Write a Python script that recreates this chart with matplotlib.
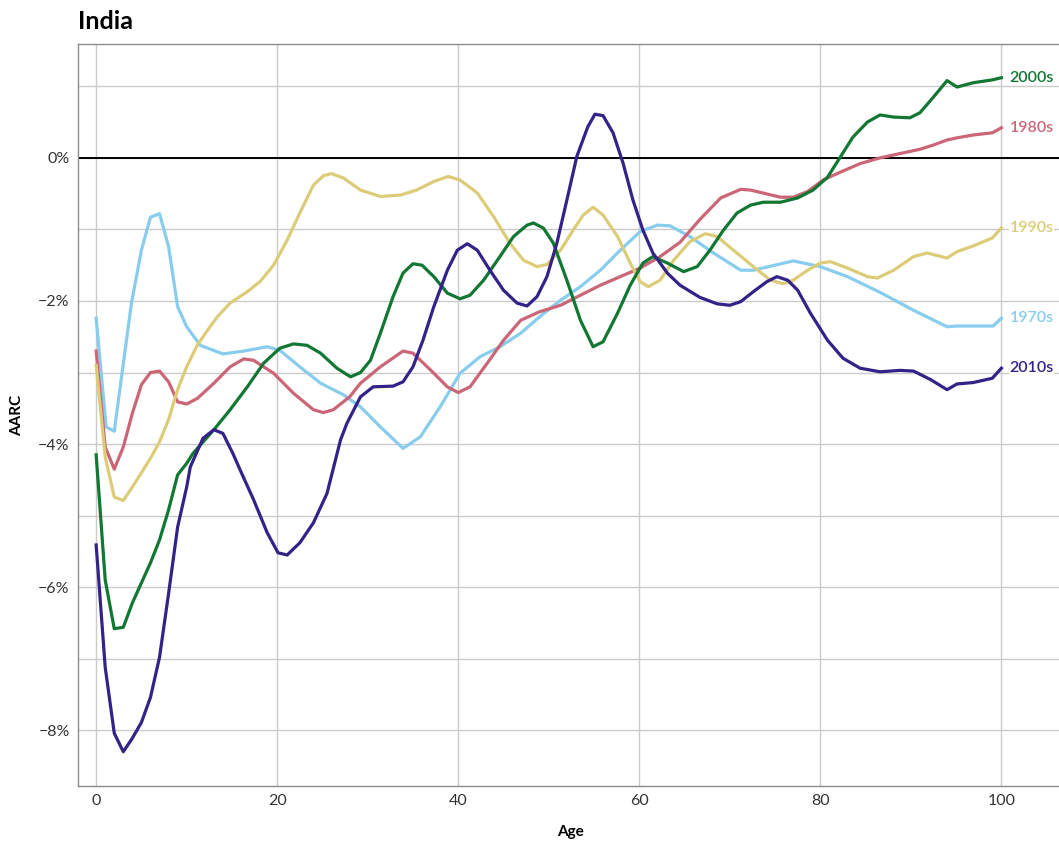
import matplotlib
matplotlib.use("Agg")
import matplotlib.pyplot as plt
from matplotlib.ticker import FuncFormatter, MultipleLocator

plt.rcParams['font.family'] = ['Lato', 'DejaVu Sans']

# ages and AARC (%), one pair of lists per decade
age_1970s = [0, 1.1, 2, 3.9, 5, 6, 7, 8, 9, 10, 11.5, 14, 16.3, 18.9, 20.3, 22.5, 24.8, 27.3,
             29.2, 31.4, 33.9, 35.8, 38, 40.2, 42.4, 44.6, 46.9, 49, 51.3, 53.5, 55.7, 57.9,
             60.1, 62, 63.4, 65.6, 68.2, 71.2, 72.6, 77, 80, 83, 86.6, 90.3, 94, 95.1, 99.1, 100]
val_1970s = [-2.24, -3.76, -3.82, -2.03, -1.29, -0.83, -0.78, -1.24, -2.08, -2.36, -2.62, -2.74,
             -2.7, -2.64, -2.69, -2.92, -3.15, -3.31, -3.48, -3.76, -4.06, -3.9, -3.48, -3.01,
             -2.78, -2.64, -2.45, -2.22, -1.99, -1.8, -1.57, -1.29, -1.03, -0.94, -0.95, -1.1,
             -1.33, -1.57, -1.57, -1.44, -1.52, -1.66, -1.88, -2.13, -2.36, -2.35, -2.35, -2.24]

age_1980s = [0, 1, 2, 3, 4, 5, 6, 7, 8, 9, 10, 11.2, 13, 14.8, 16.3, 17.4, 19.6, 21.8, 24, 25.1,
             26.2, 28, 29.2, 31.4, 33.9, 35, 36.9, 38.8, 40, 41.3, 43.2, 45, 46.9, 49, 51.3, 53.5,
             55.7, 57.9, 60.1, 62.3, 64.5, 66.7, 69, 71.2, 72.3, 75.6, 77, 78.6, 80.3, 82.2, 84.4,
             86.6, 88.8, 91, 92.5, 94, 95.1, 96.9, 99, 100]
val_1980s = [-2.7, -4.04, -4.35, -4.04, -3.57, -3.17, -3.0, -2.98, -3.13, -3.41, -3.44, -3.36,
             -3.15, -2.92, -2.81, -2.83, -3.01, -3.29, -3.52, -3.56, -3.52, -3.34, -3.15, -2.92,
             -2.7, -2.73, -2.96, -3.2, -3.28, -3.2, -2.87, -2.55, -2.27, -2.15, -2.06, -1.92,
             -1.78, -1.66, -1.54, -1.38, -1.18, -0.86, -0.56, -0.44, -0.45, -0.55, -0.55, -0.47,
             -0.31, -0.2, -0.08, 0.0, 0.06, 0.12, 0.18, 0.25, 0.28, 0.32, 0.35, 0.42]

age_1990s = [0, 1, 2, 3, 4, 5, 6, 7, 8, 9, 10, 11.2, 12.3, 13.4, 14.8, 16.7, 18.1, 19.6, 21.1,
             22.5, 24, 25.1, 26, 27.3, 29.2, 31.4, 33.6, 35.4, 37.3, 38.9, 40.2, 42.1, 43.9, 45.7,
             47.2, 48.7, 49.8, 51.3, 52.7, 53.8, 54.9, 56, 57.6, 59, 60.1, 61, 62.3, 63.8, 65.6,
             67.3, 68.6, 70.4, 72.6, 74.5, 75.9, 77, 78.6, 80, 81.1, 83, 85.2, 86.3, 88.1, 90.3,
             91.8, 94, 95.1, 96.9, 99, 100]
val_1990s = [-2.9, -4.18, -4.74, -4.79, -4.6, -4.4, -4.2, -3.97, -3.66, -3.24, -2.92, -2.61,
             -2.41, -2.22, -2.03, -1.87, -1.73, -1.5, -1.15, -0.77, -0.38, -0.25, -0.22, -0.28,
             -0.45, -0.54, -0.52, -0.45, -0.33, -0.26, -0.31, -0.49, -0.82, -1.19, -1.43, -1.52,
             -1.49, -1.29, -1.01, -0.8, -0.69, -0.8, -1.1, -1.47, -1.73, -1.8, -1.71, -1.43,
             -1.17, -1.06, -1.1, -1.29, -1.52, -1.71, -1.76, -1.71, -1.57, -1.47, -1.45, -1.54,
             -1.66, -1.68, -1.57, -1.38, -1.33, -1.4, -1.31, -1.23, -1.12, -0.98]

age_2000s = [0, 1, 2, 3, 4, 5, 6, 7, 8, 9, 10, 10.7, 13, 14.8, 16.7, 18.5, 20.3, 21.8, 23.3,
             24.8, 26.6, 28.1, 29.2, 30.3, 31.4, 32.8, 33.9, 35, 36, 37.3, 38.8, 40.2, 41.3, 42.8,
             44.6, 46.1, 47.6, 48.3, 49.4, 50.5, 52, 53.5, 54.9, 56, 57.6, 59, 60.4, 61.5, 63.1,
             64.9, 66.4, 67.8, 69.3, 70.8, 72.3, 73.7, 75.6, 77.5, 79.2, 80.8, 82.2, 83.6, 85.2,
             86.6, 88.1, 89.9, 91, 92.5, 94, 95.1, 96.9, 99, 100]
val_2000s = [-4.15, -5.9, -6.58, -6.56, -6.22, -5.94, -5.66, -5.34, -4.92, -4.43, -4.27, -4.13,
             -3.8, -3.52, -3.2, -2.87, -2.66, -2.6, -2.62, -2.73, -2.94, -3.06, -3.0, -2.83,
             -2.45, -1.94, -1.61, -1.48, -1.5, -1.66, -1.89, -1.97, -1.92, -1.71, -1.38, -1.1,
             -0.94, -0.91, -0.98, -1.19, -1.71, -2.27, -2.64, -2.57, -2.17, -1.78, -1.47, -1.38,
             -1.47, -1.59, -1.52, -1.29, -1.01, -0.77, -0.66, -0.62, -0.62, -0.56, -0.45, -0.27,
             0.01, 0.29, 0.5, 0.6, 0.57, 0.56, 0.63, 0.85, 1.08, 0.99, 1.05, 1.09, 1.12]

age_2010s = [0, 1, 2, 3, 4, 5, 6, 7, 8, 9, 10, 10.4, 11.8, 13, 14, 15.1, 15.9, 17.4, 18.9, 20.1,
             21.1, 22.5, 24, 25.5, 27, 27.7, 29.2, 30.6, 32.8, 33.9, 35, 36.1, 37.3, 38.8, 39.9,
             41, 42.1, 43.5, 45, 46.5, 47.6, 48.7, 49.8, 50.9, 52, 53.1, 54.3, 55.1, 56, 57.1,
             58.2, 59.3, 60.4, 61.5, 63.1, 64.5, 66.7, 68.6, 70, 71.2, 72.6, 74.1, 75.2, 76.4,
             77.5, 78.9, 80.8, 82.5, 84.4, 86.6, 88.8, 90.3, 92.2, 94, 95.1, 96.9, 99, 100]
val_2010s = [-5.41, -7.12, -8.04, -8.3, -8.11, -7.89, -7.54, -6.98, -6.09, -5.16, -4.6, -4.32,
             -3.92, -3.8, -3.85, -4.13, -4.36, -4.78, -5.24, -5.52, -5.55, -5.38, -5.1, -4.69,
             -3.94, -3.71, -3.34, -3.2, -3.19, -3.13, -2.92, -2.55, -2.08, -1.57, -1.29, -1.2,
             -1.29, -1.57, -1.85, -2.03, -2.07, -1.94, -1.66, -1.19, -0.59, 0.02, 0.43, 0.61,
             0.59, 0.35, -0.07, -0.59, -1.01, -1.33, -1.61, -1.78, -1.95, -2.04, -2.06, -2.01,
             -1.87, -1.73, -1.66, -1.71, -1.85, -2.17, -2.55, -2.8, -2.94, -2.99, -2.97, -2.98,
             -3.1, -3.24, -3.16, -3.14, -3.08, -2.94]

decades = ['1970s', '1980s', '1990s', '2000s', '2010s']
colors = ['#88CCEE', '#CC6677', '#DDCC77', '#117733', '#332288']
ages = [age_1970s, age_1980s, age_1990s, age_2000s, age_2010s]
values = [val_1970s, val_1980s, val_1990s, val_2000s, val_2010s]

fig = plt.figure(figsize=(10.59, 8.48), dpi=100)
ax = fig.add_axes([0.0737, 0.073, 0.93, 0.875])

for x, y, name, col in zip(ages, values, decades, colors):
    ax.plot(x, y, color=col, lw=2.3, zorder=3)
    ax.text(x[-1] + 0.9, y[-1], name, color=col, fontsize=11.5, fontweight='semibold',
            va='center', ha='left', zorder=4,
            bbox=dict(facecolor='white', edgecolor='none', pad=0.5))

ax.axhline(0, color='black', lw=1.4, zorder=2)

ax.set_xlim(-2, 106.8)
ax.set_ylim(-8.78, 1.59)
ax.xaxis.set_major_locator(MultipleLocator(20))
ax.yaxis.set_major_locator(MultipleLocator(2))
ax.yaxis.set_minor_locator(MultipleLocator(1))
ax.yaxis.set_major_formatter(FuncFormatter(lambda v, p: f"{int(round(v))}%".replace('-', '\u2212')))
ax.grid(which='major', color='#cbcbcb', lw=1.0)
ax.grid(which='minor', axis='y', color='#cbcbcb', lw=1.0)
ax.set_axisbelow(True)
ax.tick_params(which='both', length=0, labelsize=11.5, labelcolor='#333333', pad=6)

for side in ['left', 'bottom', 'top', 'right']:
    ax.spines[side].set_color('#8c8c8c')
    ax.spines[side].set_linewidth(1.0)

ax.set_xlabel('Age', fontsize=11, fontweight='bold', labelpad=12)
ax.set_ylabel('AARC', fontsize=11, fontweight='bold', labelpad=10)
fig.text(0.0737, 0.975, 'India', fontsize=18, fontweight='bold', va='center', ha='left')

fig.savefig('out.png', dpi=100)
